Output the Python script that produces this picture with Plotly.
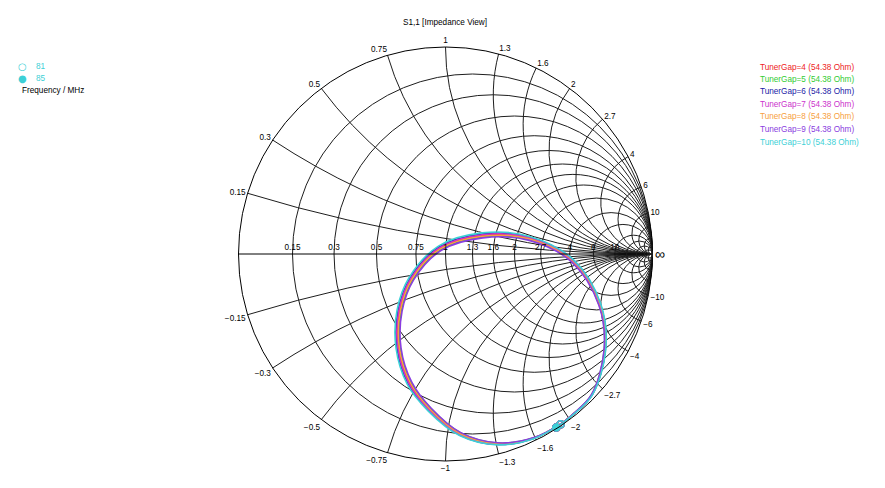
import numpy as np
import plotly.graph_objects as go

# ---- data: S11 (reflection coefficient), 81 -> 85 MHz ----
series_names = ["TunerGap=4", "TunerGap=5", "TunerGap=6", "TunerGap=7",
                "TunerGap=8", "TunerGap=9", "TunerGap=10"]
port_impedance = "54.38 Ohm"
series_colors = ["#ee1c24", "#33cc33", "#1a1aa6", "#cc33cc", "#f7a040", "#8a3de0", "#3dd0d6"]

s11_re_gap4 = [0.556, 0.428, 0.252, 0.071, -0.076, -0.174, -0.227, -0.222, -0.164, -0.027, 0.178, 0.403, 0.614, 0.746, 0.770, 0.707, 0.610, 0.535]
s11_im_gap4 = [-0.822, -0.889, -0.917, -0.870, -0.752, -0.624, -0.454, -0.274, -0.118, 0.028, 0.090, 0.076, -0.033, -0.246, -0.463, -0.681, -0.780, -0.838]
s11_re_gap5 = [0.556, 0.427, 0.252, 0.073, -0.071, -0.167, -0.219, -0.214, -0.157, -0.022, 0.179, 0.401, 0.611, 0.743, 0.767, 0.706, 0.610, 0.535]
s11_im_gap5 = [-0.822, -0.888, -0.914, -0.865, -0.747, -0.621, -0.453, -0.276, -0.123, 0.021, 0.082, 0.070, -0.036, -0.247, -0.463, -0.680, -0.780, -0.838]
s11_re_gap6 = [0.556, 0.429, 0.252, 0.069, -0.080, -0.180, -0.234, -0.229, -0.170, -0.031, 0.177, 0.405, 0.617, 0.749, 0.772, 0.708, 0.611, 0.535]
s11_im_gap6 = [-0.822, -0.890, -0.920, -0.874, -0.756, -0.627, -0.455, -0.272, -0.114, 0.034, 0.097, 0.081, -0.030, -0.245, -0.463, -0.682, -0.780, -0.838]
s11_re_gap7 = [0.556, 0.428, 0.252, 0.070, -0.078, -0.177, -0.230, -0.225, -0.166, -0.029, 0.178, 0.404, 0.615, 0.747, 0.771, 0.707, 0.610, 0.535]
s11_im_gap7 = [-0.822, -0.889, -0.918, -0.872, -0.754, -0.625, -0.454, -0.273, -0.116, 0.030, 0.093, 0.078, -0.032, -0.246, -0.463, -0.681, -0.780, -0.838]
s11_re_gap8 = [0.556, 0.428, 0.252, 0.072, -0.074, -0.170, -0.223, -0.218, -0.161, -0.025, 0.179, 0.402, 0.612, 0.744, 0.769, 0.707, 0.610, 0.535]
s11_im_gap8 = [-0.822, -0.889, -0.915, -0.868, -0.750, -0.622, -0.454, -0.275, -0.120, 0.025, 0.086, 0.073, -0.035, -0.247, -0.463, -0.681, -0.780, -0.838]
s11_re_gap9 = [0.556, 0.427, 0.252, 0.074, -0.069, -0.163, -0.215, -0.210, -0.154, -0.020, 0.180, 0.400, 0.609, 0.741, 0.766, 0.705, 0.609, 0.535]
s11_im_gap9 = [-0.822, -0.887, -0.912, -0.863, -0.745, -0.619, -0.453, -0.277, -0.125, 0.018, 0.078, 0.067, -0.038, -0.248, -0.463, -0.680, -0.779, -0.838]
s11_re_gap10 = [0.556, 0.429, 0.252, 0.068, -0.083, -0.185, -0.239, -0.234, -0.174, -0.034, 0.176, 0.406, 0.619, 0.751, 0.774, 0.709, 0.611, 0.535]
s11_im_gap10 = [-0.822, -0.891, -0.922, -0.877, -0.759, -0.629, -0.455, -0.271, -0.111, 0.038, 0.102, 0.085, -0.028, -0.244, -0.463, -0.682, -0.781, -0.838]

marker_freqs = ["81", "85"]
axis_label = "Frequency / MHz"
title_text = "S1,1 [Impedance View]"

resistance_ticks = [0.15, 0.3, 0.5, 0.75, 1, 1.3, 1.6, 2, 2.7, 4, 6, 10]
reactance_ticks = [-10, -6, -4, -2.7, -2, -1.6, -1.3, -1, -0.75, -0.5, -0.3, -0.15,
                   0.15, 0.3, 0.5, 0.75, 1, 1.3, 1.6, 2, 2.7, 4, 6, 10]
extra_resistance_grid = [15, 25, 50]
extra_reactance_grid = [-50, -25, -15, 15, 25, 50]

s11_re = [s11_re_gap4, s11_re_gap5, s11_re_gap6, s11_re_gap7, s11_re_gap8, s11_re_gap9, s11_re_gap10]
s11_im = [s11_im_gap4, s11_im_gap5, s11_im_gap6, s11_im_gap7, s11_im_gap8, s11_im_gap9, s11_im_gap10]

FONT = "Liberation Sans"
FS = 8.2
OFF = 8  # default page body margin
W, H = 885 - 2 * OFF, 488 - 2 * OFF

fig = go.Figure()

for name, col, gr, gi in zip(series_names, series_colors, s11_re, s11_im):
    g = np.array(gr) + 1j * np.array(gi)
    z = (1 + g) / (1 - g)
    fig.add_trace(go.Scattersmith(real=z.real, imag=z.imag, mode="lines",
                                  line=dict(color=col, width=1.6, shape="spline"),
                                  name=name, showlegend=False, hoverinfo="skip"))
for name, col, gr, gi in zip(series_names, series_colors, s11_re, s11_im):
    g = np.array([gr[0], gr[-1]]) + 1j * np.array([gi[0], gi[-1]])
    z = (1 + g) / (1 - g)
    fig.add_trace(go.Scattersmith(real=z.real, imag=z.imag, mode="markers",
                                  marker=dict(color=col, size=7, symbol=["circle-open", "circle"],
                                              line=dict(color=col, width=1.5)),
                                  showlegend=False, hoverinfo="skip"))
# invisible trace so that the fine-grid overlay subplot exists
fig.add_trace(go.Scattersmith(real=[1], imag=[0], mode="markers", subplot="smith2",
                              marker=dict(opacity=0), showlegend=False, hoverinfo="skip"))

ann = []
ann.append(dict(text=title_text, x=445, y=22))
for i, (name, col) in enumerate(zip(series_names, series_colors)):
    ann.append(dict(text=f"{name} ({port_impedance})", x=758, y=67 + i * 12.5,
                    xanchor="left", font=dict(color=col)))
ann.append(dict(text="\u25cb", x=23, y=66, font=dict(family="DejaVu Sans", color="#3dd0d6", size=10)))
ann.append(dict(text="\u25cf", x=23, y=78, font=dict(family="DejaVu Sans", color="#3dd0d6", size=10)))
ann.append(dict(text=marker_freqs[0], x=34, y=66, xanchor="left", font=dict(color="#3dd0d6")))
ann.append(dict(text=marker_freqs[1], x=34, y=78, xanchor="left", font=dict(color="#3dd0d6")))
ann.append(dict(text=axis_label, x=20, y=91, xanchor="left", font=dict(color="#000")))
for a in ann:
    a["x"] = (a["x"] - OFF) / W
    a["y"] = 1 - (a["y"] - OFF) / H
    a["xref"] = "paper"
    a["yref"] = "paper"
    a["showarrow"] = False
    a.setdefault("xanchor", "center")
    a["yanchor"] = "middle"

R = 207
cx, cy = 445.5 - OFF, 254 - OFF
dom = dict(x=[(cx - R) / W, (cx + R) / W], y=[(H - cy - R) / H, (H - cy + R) / H])
GRID = "#1e1e1e"
fig.update_layout(
    width=W, height=H,
    margin=dict(l=0, r=0, t=0, b=0),
    paper_bgcolor="white",
    font=dict(family=FONT, size=FS, color="#000"),
    annotations=ann,
    showlegend=False,
    smith=dict(
        domain=dom,
        bgcolor="white",
        realaxis=dict(tickvals=resistance_ticks, tickangle=0, showgrid=True,
                      gridcolor=GRID, gridwidth=0.8, linecolor="#000", linewidth=1,
                      tickfont=dict(family=FONT, size=FS, color="#000")),
        imaginaryaxis=dict(tickvals=reactance_ticks, showgrid=True,
                           gridcolor=GRID, gridwidth=0.8, linecolor="#000", linewidth=1,
                           tickfont=dict(family=FONT, size=FS, color="#000")),
    ),
    smith2=dict(
        domain=dom,
        bgcolor="rgba(0,0,0,0)",
        realaxis=dict(tickvals=extra_resistance_grid, showgrid=True, showticklabels=False,
                      showline=False, gridcolor=GRID, gridwidth=0.8),
        imaginaryaxis=dict(tickvals=extra_reactance_grid, showgrid=True, showticklabels=False,
                           showline=False, gridcolor=GRID, gridwidth=0.8),
    ),
)
fig.write_html("out.html")
